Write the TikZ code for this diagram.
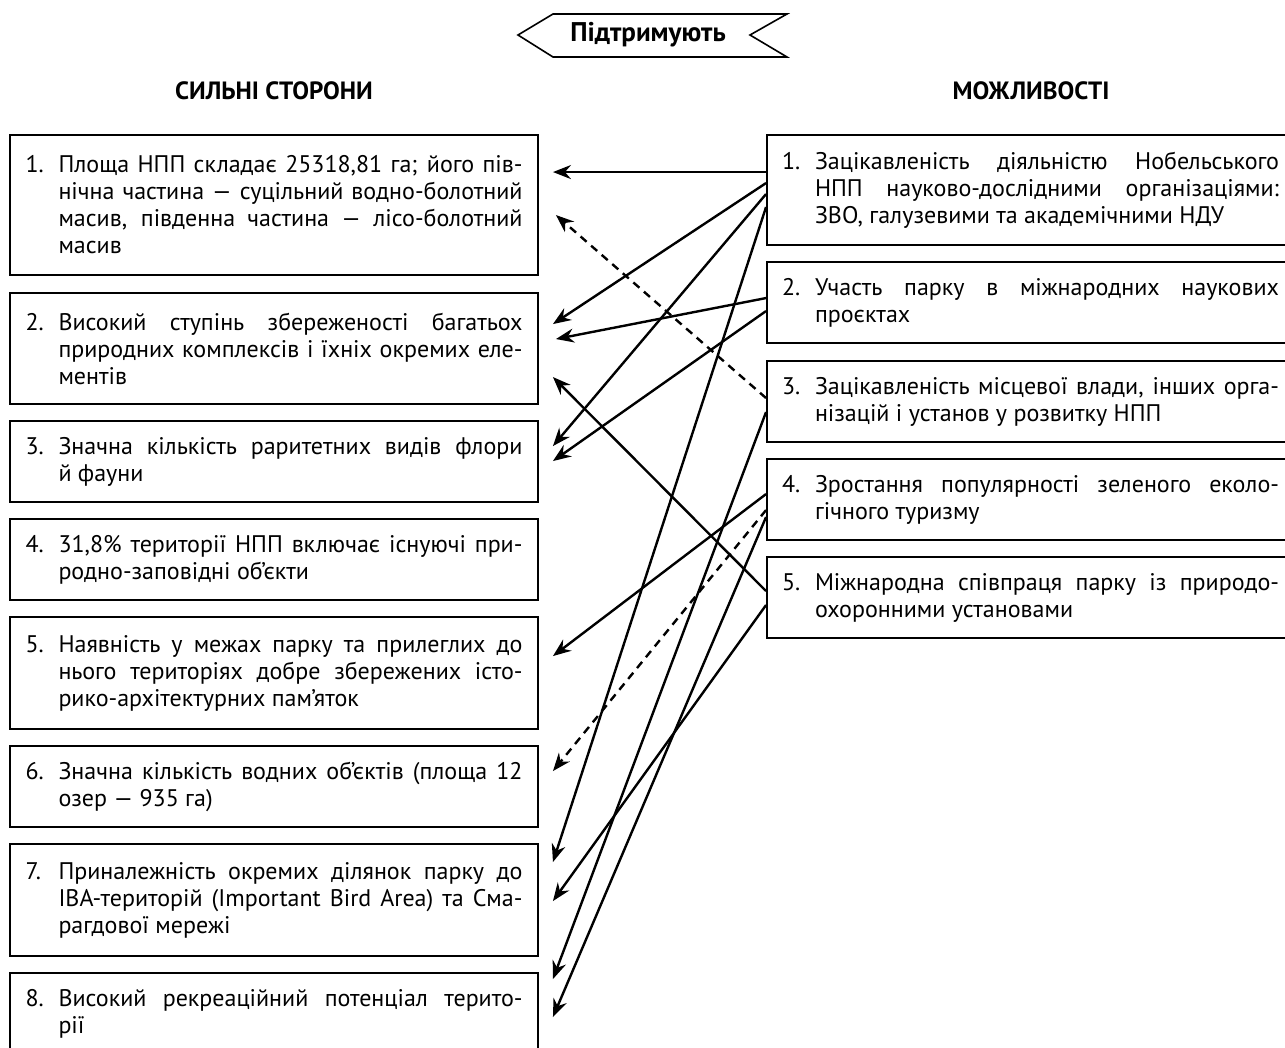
\documentclass[tikz,border=0pt]{standalone}
\usepackage{fontspec}
\setmainfont{PT Sans}
\usetikzlibrary{arrows.meta}
\newcommand\jl[1]{\makebox[\linewidth][s]{#1}}
\newcommand\itm[2]{\makebox[33pt][l]{#1}\parbox[t]{464pt}{#2}}
\tikzset{
  box/.style={draw, line width=1.9pt, inner sep=0pt, minimum width=528pt,
    font=\fontsize{24}{27}\selectfont},
  rbox/.style={box, minimum width=527pt},
  conn/.style={line width=2.4pt, -{Stealth[length=18pt,width=14pt,inset=6pt]}},
  dconn/.style={conn, dash pattern=on 8pt off 6pt},
  head/.style={font=\fontsize{25}{28}\selectfont\bfseries, inner sep=0pt},
}
\begin{document}
\begin{tikzpicture}[x=1pt,y=-1pt]
\useasboundingbox (0,0) rectangle (1285,1047);
% banner
\node[head, font=\fontsize{27}{30}\selectfont\bfseries] (ban) at (648,35) {Підтримують};
\draw[line width=1.6pt] (518,35) -- (553,14) -- (787,14) -- (750,35) -- (787,57) -- (553,57) -- cycle;
% headers
\node[head] (hs) at (274,91) {СИЛЬНІ СТОРОНИ};
\node[head] (hm) at (1031,91) {МОЖЛИВОСТІ};
% left boxes
\node[box, minimum height=140pt] (L1) at (274,205) {\itm{1.}{\jl{Площа НПП складає 25318,81 га; його пів-}\\\jl{нічна частина — суцільний водно-болотний}\\\jl{масив, південна частина — лісо-болотний}\\масив}};
\node[box, minimum height=111pt] (L2) at (274,348.5) {\itm{2.}{\jl{Високий ступінь збереженості багатьох}\\\jl{природних комплексів і їхніх окремих еле-}\\ментів}};
\node[box, minimum height=81pt] (L3) at (274,461.5) {\itm{3.}{\jl{Значна кількість раритетних видів флори}\\й фауни}};
\node[box, minimum height=81pt] (L4) at (274,559.5) {\itm{4.}{\jl{31,8\% території НПП включає існуючі при-}\\родно-заповідні об’єкти}};
\node[box, minimum height=112pt] (L5) at (274,673) {\itm{5.}{\jl{Наявність у межах парку та прилеглих до}\\\jl{нього територіях добре збережених істо-}\\рико-архітектурних пам’яток}};
\node[box, minimum height=81pt] (L6) at (274,786.5) {\itm{6.}{\jl{Значна кількість водних об’єктів (площа 12}\\озер — 935 га)}};
\node[box, minimum height=112pt] (L7) at (274,900) {\itm{7.}{\jl{Приналежність окремих ділянок парку до}\\\jl{IBA-територій (Important Bird Area) та Сма-}\\рагдової мережі}};
\node[box, minimum height=81pt] (L8) at (274,1013.5) {\itm{8.}{\jl{Високий рекреаційний потенціал терито-}\\рії}};
% right boxes
\node[rbox, minimum height=110pt] (R1) at (1030.5,190) {\itm{1.}{\jl{Зацікавленість діяльністю Нобельського}\\\jl{НПП науково-дослідними організаціями:}\\ЗВО, галузевими та академічними НДУ}};
\node[rbox, minimum height=81pt] (R2) at (1030.5,302.5) {\itm{2.}{\jl{Участь парку в міжнародних наукових}\\проєктах}};
\node[rbox, minimum height=81pt] (R3) at (1030.5,401.5) {\itm{3.}{\jl{Зацікавленість місцевої влади, інших орга-}\\нізацій і установ у розвитку НПП}};
\node[rbox, minimum height=81pt] (R4) at (1030.5,499.5) {\itm{4.}{\jl{Зростання популярності зеленого еколо-}\\гічного туризму}};
\node[rbox, minimum height=81pt] (R5) at (1030.5,597.5) {\itm{5.}{\jl{Міжнародна співпраця парку із природо-}\\охоронними установами}};
% connectors
\draw[conn] ([yshift=-38pt]R1.north west) -- ([xshift=14pt,yshift=-38pt]L1.north east);
\draw[conn] ([yshift=-49pt]R1.north west) -- ([xshift=14pt,yshift=-32pt]L2.north east);
\draw[conn] ([yshift=-60pt]R1.north west) -- ([xshift=14pt,yshift=-26pt]L3.north east);
\draw[conn] ([yshift=-73pt]R1.north west) -- ([xshift=14pt,yshift=-19pt]L7.north east);
\draw[conn] ([yshift=-37pt]R2.north west) -- ([xshift=17pt,yshift=-47pt]L2.north east);
\draw[conn] ([yshift=-50pt]R2.north west) -- ([xshift=14pt,yshift=-41pt]L3.north east);
\draw[dconn] ([yshift=-38pt]R3.north west) -- ([xshift=17pt,yshift=-81pt]L1.north east);
\draw[conn] ([yshift=-52pt]R3.north west) -- ([xshift=14pt,yshift=-7pt]L8.north east);
\draw[conn] ([yshift=-36pt]R4.north west) -- ([xshift=14pt,yshift=-40pt]L5.north east);
\draw[dconn] ([yshift=-52pt]R4.north west) -- ([xshift=14pt,yshift=-26pt]L6.north east);
\draw[conn] ([yshift=-59pt]R4.north west) -- ([xshift=14pt,yshift=-45pt]L8.north east);
\draw[conn] ([yshift=-35pt]R5.north west) -- ([xshift=14pt,yshift=-85pt]L2.north east);
\draw[conn] ([yshift=-49pt]R5.north west) -- ([xshift=14pt,yshift=-58pt]L7.north east);
\end{tikzpicture}
\end{document}
